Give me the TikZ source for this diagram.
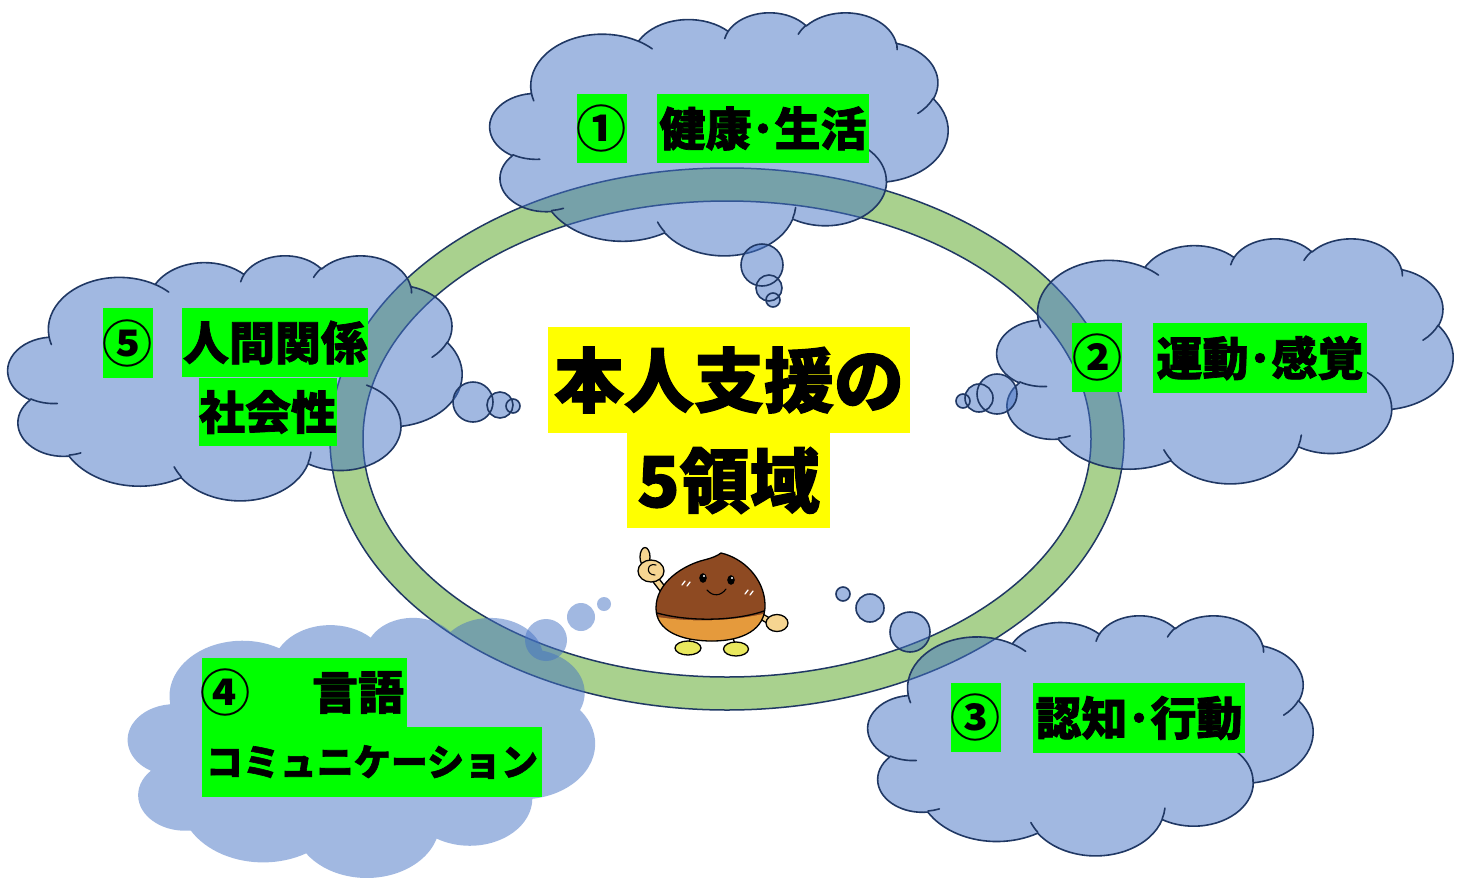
\documentclass[tikz,border=0pt]{standalone}
\usepackage{fontspec}
\newfontfamily\jp{Noto Sans CJK JP}[BoldFeatures={FakeBold=1.6}]
\newfontfamily\jpnum{Noto Sans CJK JP}
\definecolor{cloudfill}{HTML}{4472C4}
\definecolor{cloudline}{HTML}{203864}
\definecolor{ringfill}{HTML}{A9D18E}
\definecolor{labelgreen}{HTML}{00FF00}
\definecolor{labelyellow}{HTML}{FFFF00}
\definecolor{nutbrown}{HTML}{8E4A22}
\definecolor{nutbase}{HTML}{E59A3C}
\definecolor{skin}{HTML}{F6D591}
\definecolor{shoe}{HTML}{E9E85E}

% elliptic arc given by its visual start angle and sweep (cloud geometry)
\newcommand\carc[4]{arc[x radius=#1, y radius=#2,
  start angle={atan2(#1*sin(#3),#2*cos(#3))},
  delta angle={mod(atan2(#1*sin(#3+#4),#2*cos(#3+#4))-atan2(#1*sin(#3),#2*cos(#3))+720,360)}]}

% cloud outline in a 432 x 432 box
\newcommand\cloudbody{(39.00,143.70)
  \carc{67.53}{91.90}{-190.487}{123.781}
  \carc{53.33}{72.67}{-144.102}{89.945}
  \carc{43.65}{59.45}{-145.808}{99.723}
  \carc{48.57}{65.95}{-130.986}{117.242}
  \carc{53.33}{72.73}{-78.709}{109.027}
  \carc{67.75}{92.20}{-46.267}{130.269}
  \carc{57.85}{78.67}{0.625}{114.033}
  \carc{67.52}{92.15}{22.452}{115.173}
  \carc{77.20}{105.43}{66.243}{75.711}
  \carc{43.60}{59.18}{-274.942}{146.736}
  \carc{43.45}{59.45}{-246.829}{152.519}
  -- cycle}

% the short inner creases of the cloud
\newcommand\cloudcreases{
  (46.93,261.77) \carc{43.45}{59.45}{86.742}{26.430}
  (69.28,348.99) \carc{43.60}{59.18}{73.610}{11.447}
  (164.78,390.90) \carc{67.52}{92.15}{137.624}{14.081}
  (288.27,347.51) \carc{67.52}{92.15}{6.453}{15.998}
  (341.29,229.54) \carc{57.85}{78.67}{-70.292}{70.917}
  (417.98,153.54) \carc{53.33}{72.73}{30.318}{27.752}
  (383.24,54.26) \carc{48.57}{65.95}{-13.744}{14.859}
  (290.78,39.52) \carc{48.57}{65.95}{-149.181}{18.195}
  (221.41,47.20) \carc{43.65}{59.45}{-163.494}{17.686}
  (140.00,51.92) \carc{67.53}{91.90}{-66.707}{12.319}
  (41.27,157.89) \carc{67.53}{91.90}{157.654}{11.858}}

\newcommand\nutbody{(721,553) .. controls (743,558) and (764,578) .. (765,604)
  .. controls (766,630) and (742,641) .. (712,641)
  .. controls (681,641) and (656,631) .. (656,608)
  .. controls (656,582) and (684,565) .. (704,560)
  .. controls (712,558) and (717,556) .. (721,553) -- cycle}

\tikzset{
  cloudpart/.style={fill=cloudfill, fill opacity=0.5, draw=cloudline, draw opacity=1,
    line width=1.6pt, line join=round},
  cloudplain/.style={fill=cloudfill, fill opacity=0.5},
  crease/.style={draw=cloudline, line width=1.6pt, line cap=round},
  gbox/.style={fill=labelgreen, inner sep=0pt},
  ybox/.style={fill=labelyellow, inner sep=0pt},
  lab/.style={font={\jp\bfseries\fontsize{46pt}{46pt}\selectfont}, text=black},
  num/.style={font={\jpnum\bfseries\fontsize{50pt}{50pt}\selectfont}, text=black},
  kata/.style={font={\jp\bfseries\fontsize{37pt}{37pt}\selectfont}, text=black},
  big/.style={font={\jp\bfseries\fontsize{70pt}{70pt}\selectfont}, text=black},
  ink/.style={draw=black, line width=1.3pt, line join=round, line cap=round},
}

\begin{document}
\begin{tikzpicture}[x=1pt, y=-1pt]
\useasboundingbox (0,0) rectangle (1457,879);
\fill[white] (0,0) rectangle (1457,879);

% green ring
\path[draw=cloudline, line width=1.5pt, fill=ringfill, even odd rule]
  (727,439) ellipse [x radius=397, y radius=271]
  (727,439) ellipse [x radius=364, y radius=238];

% cloud 1 (top)
\begin{scope}[shift={(490,12)}, x=1.0602pt, y=-0.5625pt]
  \path[cloudpart] \cloudbody;
  \path[crease] \cloudcreases;
\end{scope}
\path[cloudpart] (762,265) circle[radius=21] (769,288) circle[radius=13] (773,300) circle[radius=7];

% cloud 2 (right)
\begin{scope}[shift={(997,238)}, x=1.0556pt, y=-0.5671pt]
  \path[cloudpart] \cloudbody;
  \path[crease] \cloudcreases;
\end{scope}
\path[cloudpart] (997,394) circle[radius=20] (979,398) circle[radius=14] (963,401) circle[radius=7];

% cloud 3 (lower right)
\begin{scope}[shift={(868,615)}, x=1.0301pt, y=-0.5556pt]
  \path[cloudpart] \cloudbody;
  \path[crease] \cloudcreases;
\end{scope}
\path[cloudpart] (910,632) circle[radius=20] (870,608) circle[radius=14] (843,594) circle[radius=7];

% cloud 4 (lower left, no outline)
\begin{scope}[shift={(128,617)}, x=1.0810pt, y=-0.6019pt]
  \path[cloudplain] \cloudbody;
\end{scope}
\path[cloudplain] (546,640) circle[radius=21] (581,617) circle[radius=14] (604,604) circle[radius=7];

% cloud 5 (left)
\begin{scope}[shift={(8,255)}, x=1.0509pt, y=-0.5671pt]
  \path[cloudpart] \cloudbody;
  \path[crease] \cloudcreases;
\end{scope}
\path[cloudpart] (473,402) circle[radius=20] (500,405) circle[radius=13] (513,406) circle[radius=7];

% labels
\node[gbox, num, minimum width=49pt, minimum height=69pt] (n1) at (601.5,128.5) {①};
\node[gbox, lab, minimum width=212pt, minimum height=69pt] (t1) at (763,128.5) {健康･生活};

\node[gbox, num, minimum width=48pt, minimum height=69pt] (n2) at (1097,357.5) {②};
\node[gbox, lab, minimum width=214pt, minimum height=70pt] (t2) at (1260,358) {運動･感覚};

\node[gbox, num, minimum width=47pt, minimum height=69pt] (n3) at (975.5,717.5) {③};
\node[gbox, lab, minimum width=212pt, minimum height=70pt] (t3) at (1139,718) {認知･行動};

\node[gbox, minimum width=205pt, minimum height=69pt] (b4) at (304.5,692.5) {};
\node[num, inner sep=0pt] (n4) at (225,692.5) {④};
\node[lab, inner sep=0pt] (t4a) at (358,692.5) {言語};
\node[gbox, kata, minimum width=340pt, minimum height=70pt] (t4b) at (372,762) {コミュニケーション};

\node[gbox, num, minimum width=47pt, minimum height=70pt] (n5) at (127.5,343) {⑤};
\node[gbox, lab, minimum width=186pt, minimum height=69pt] (t5a) at (275,342.5) {人間関係};
\node[gbox, lab, minimum width=138pt, minimum height=68pt] (t5b) at (268,412) {社会性};

% central title
\node[ybox, big, minimum width=362pt, minimum height=106pt] (title1) at (729,380) {本人支援の};
\node[ybox, big, minimum width=203pt, minimum height=95pt] (title2) at (728.5,480.5) {5領域};

% chestnut mascot: arms and legs
\draw[black, line width=8pt, line cap=round] (665,592) -- (652,575);
\draw[skin, line width=5pt, line cap=round] (665,592) -- (652,575);
\draw[black, line width=7pt, line cap=round] (757,614) -- (771,622);
\draw[skin, line width=4.2pt, line cap=round] (757,614) -- (771,622);
\draw[ink] (690,638) -- (689,644) (733,638) -- (735,644);
% hands
\path[ink, fill=skin] (645,557) ellipse [x radius=5, y radius=9.5];
\path[ink, fill=skin] (651,571) ellipse [x radius=13, y radius=11];
\draw[ink, line width=1.1pt] (656,565) .. controls (647,562) and (645,575) .. (655,575);
\path[ink, fill=skin] (777,623) ellipse [x radius=11, y radius=8.5];
% feet
\path[ink, fill=shoe] (688,648) ellipse [x radius=13, y radius=7];
\path[ink, fill=shoe] (736,649) ellipse [x radius=12.5, y radius=7];
% body
\fill[nutbrown] \nutbody;
\begin{scope}
  \clip \nutbody;
  \fill[nutbase] (640,614) .. controls (690,624) and (735,622) .. (780,610) -- (780,650) -- (640,650) -- cycle;
\end{scope}
\draw[ink] (657,613) .. controls (690,622) and (735,621) .. (764,611);
\draw[ink] \nutbody;
% face
\fill[black] (703,578) ellipse [x radius=3.8, y radius=4.8] (731,580) ellipse [x radius=3.8, y radius=4.8];
\fill[white] (704,576) circle[radius=1.2] (732,578) circle[radius=1.2];
\draw[ink, line width=1.1pt] (707,590) .. controls (713,597) and (721,596) .. (726,589);
\draw[white, line width=1.3pt, line cap=round] (682,585) -- (685,581) (687,586) -- (690,582)
  (745,594) -- (748,590) (750,595) -- (753,591);
\end{tikzpicture}
\end{document}
